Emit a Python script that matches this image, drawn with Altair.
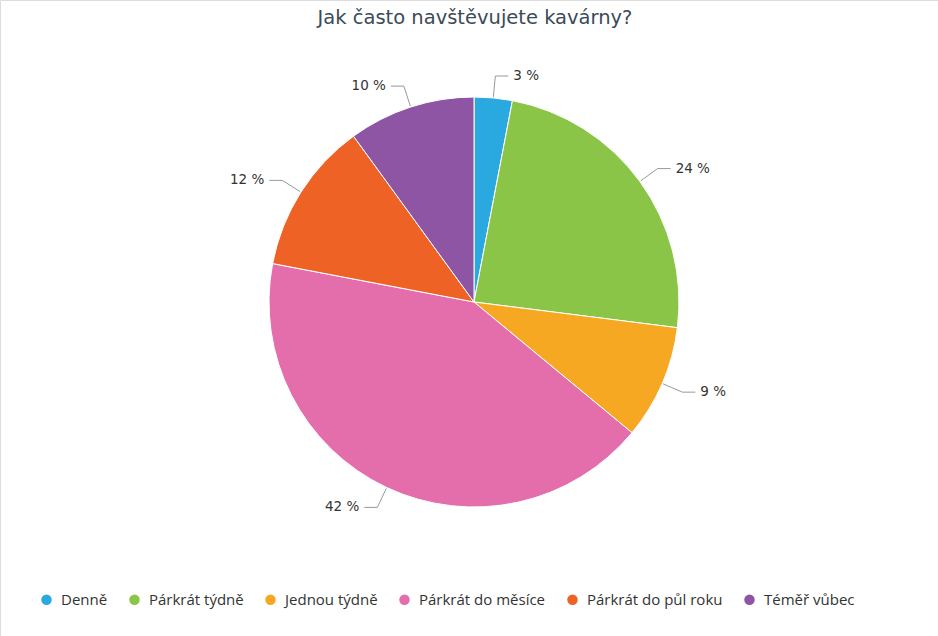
import altair as alt
import pandas as pd

categories = ["Denně", "Párkrát týdně", "Jednou týdně", "Párkrát do měsíce", "Párkrát do půl roku", "Téměř vůbec"]
values = [3, 24, 9, 42, 12, 10]
colors = ["#2aa8e0", "#8bc548", "#f7a823", "#e46dab", "#ee6325", "#8e55a4"]
title_text = "Jak často navštěvujete kavárny?"

df = pd.DataFrame({"cat": categories, "value": values, "idx": list(range(len(values)))})

CX, CY, R = 474, 302, 205

base = alt.Chart(df)

pie = base.mark_arc(radius=R, stroke="white", strokeWidth=1).encode(
    theta=alt.Theta("value:Q", stack=True),
    color=alt.Color(
        "cat:N",
        scale=alt.Scale(domain=categories, range=colors),
        sort=categories,
        legend=alt.Legend(
            title=None, orient="none", legendX=39, legendY=592,
            direction="horizontal", symbolType="circle", symbolSize=110,
            symbolStrokeWidth=0, labelFontSize=15, labelFont="Open Sans",
            labelColor="#333333", columnPadding=19, labelOffset=7,
        ),
    ),
    order=alt.Order("idx:Q"),
    x=alt.value(CX),
    y=alt.value(CY),
)

geo = base.transform_joinaggregate(total="sum(value)").transform_window(
    cum="sum(value)", sort=[alt.SortField("idx")]
).transform_calculate(
    mid="2*PI*(datum.cum - datum.value/2)/datum.total",
).transform_calculate(
    side="sin(datum.mid) >= 0 ? 1 : -1",
    x0=f"{CX} + {R+1}*sin(datum.mid)",
    y0=f"{CY} - {R+1}*cos(datum.mid)",
    x1=f"{CX} + {R+22}*sin(datum.mid)",
    y1=f"{CY} - {R+22}*cos(datum.mid)",
).transform_calculate(
    x2="datum.x1 + datum.side*13",
    xl="datum.x1 + datum.side*18",
    label="datum.value + ' %'",
)

conn1 = geo.mark_rule(color="#999999", strokeWidth=1).encode(
    x=alt.X("x0:Q", scale=None), y=alt.Y("y0:Q", scale=None),
    x2="x1:Q", y2="y1:Q",
)
conn2 = geo.mark_rule(color="#999999", strokeWidth=1).encode(
    x=alt.X("x1:Q", scale=None), y=alt.Y("y1:Q", scale=None),
    x2="x2:Q", y2="y1:Q",
)
lab_r = geo.transform_filter("datum.side > 0").mark_text(
    align="left", baseline="middle", fontSize=13.5, font="DejaVu Sans", color="#333333"
).encode(x=alt.X("xl:Q", scale=None), y=alt.Y("y1:Q", scale=None), text="label:N")
lab_l = geo.transform_filter("datum.side < 0").mark_text(
    align="right", baseline="middle", fontSize=13.5, font="DejaVu Sans", color="#333333"
).encode(x=alt.X("xl:Q", scale=None), y=alt.Y("y1:Q", scale=None), text="label:N")

title = alt.Chart(pd.DataFrame({"t": [title_text]})).mark_text(
    align="center", baseline="middle", fontSize=19.5, font="DejaVu Sans", color="#3b4a58"
).encode(x=alt.value(475), y=alt.value(18), text="t:N")

chart = alt.layer(pie, conn1, conn2, lab_r, lab_l, title).properties(
    width=938, height=636, padding=0, autosize="none"
).configure_view(strokeWidth=0, stroke="transparent").configure(background="white")

chart.save("out.html", embed_options={"renderer": "svg", "actions": False})
